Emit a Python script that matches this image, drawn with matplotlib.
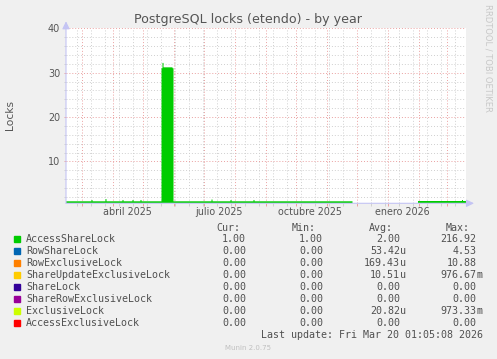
import numpy as np
import pandas as pd
import matplotlib
matplotlib.use('Agg')
import matplotlib.pyplot as plt
import matplotlib.dates as mdates
from matplotlib.ticker import MultipleLocator, FixedLocator, NullFormatter
from matplotlib.patches import Rectangle

# datos (un punto por dia, 400 dias como el grafico anual de munin)
start_day = '2025-02-13'
n_days = 400
baseline = 1.0
bump_dates = ['2025-03-11', '2025-03-25', '2025-04-11', '2025-04-21', '2025-04-29',
              '2025-07-09', '2025-07-28', '2025-08-20', '2026-03-16']
bump_vals = [1.3, 1.5, 1.3, 1.3, 1.3, 1.4, 1.3, 1.3, 1.3]
spike_start = '2025-05-20'
spike_vals = [31.0, 32.2, 31.2, 31.2, 31.2, 31.2, 31.2, 31.2, 31.2, 31.2, 31.2, 31.0]
gap_start, gap_end = '2025-11-28', '2026-01-30'

month_labels = ['abril 2025', 'julio 2025', 'octubre 2025', 'enero 2026']
month_label_dates = ['2025-04-16', '2025-07-16', '2025-10-16', '2026-01-16']

names = ['AccessShareLock', 'RowShareLock', 'RowExclusiveLock', 'ShareUpdateExclusiveLock',
         'ShareLock', 'ShareRowExclusiveLock', 'ExclusiveLock', 'AccessExclusiveLock']
colors = ['#00cc00', '#0066b3', '#ff8000', '#ffcc00', '#330099', '#990099', '#ccff00', '#ff0000']
cur = ['1.00', '0.00', '0.00', '0.00', '0.00', '0.00', '0.00', '0.00']
mins = ['1.00', '0.00', '0.00', '0.00', '0.00', '0.00', '0.00', '0.00']
avgs = ['2.00', '53.42u', '169.43u', '10.51u', '0.00', '0.00', '20.82u', '0.00']
maxs = ['216.92', '4.53', '10.88', '976.67m', '0.00', '0.00', '973.33m', '0.00']

# serie
days = pd.date_range(start_day, periods=n_days, freq='D')
s = pd.Series(baseline, index=days)
for d, v in zip(bump_dates, bump_vals):
    s[pd.Timestamp(d)] = v
spike_idx = pd.date_range(spike_start, periods=len(spike_vals), freq='D')
s[spike_idx] = spike_vals
s[gap_start:gap_end] = np.nan
x = list(s.index) + [s.index[-1] + pd.Timedelta(days=1)]
y = list(s.values) + [s.values[-1]]

W, H = 497, 359
txt = '#555555'
fig = plt.figure(figsize=(W / 100, H / 100), dpi=100, facecolor='#f0f0f0')
ax = fig.add_axes([66 / W, 1 - 203.3 / H, 400 / W, 175 / H])
ax.set_facecolor('white')

ax.fill_between(x, 0, y, step='post', color='#00cc00', lw=0)

ax.set_xlim(pd.Timestamp('2025-02-13 12:00'), pd.Timestamp('2026-03-20 12:00'))
ax.set_ylim(0.55, 40)

ax.yaxis.set_major_locator(MultipleLocator(10))
ax.yaxis.set_minor_locator(MultipleLocator(2))
ax.xaxis.set_major_locator(mdates.MonthLocator())
ax.xaxis.set_major_formatter(NullFormatter())
two_weeks = pd.date_range('2025-02-24', '2026-03-20', freq='14D')
ax.xaxis.set_minor_locator(FixedLocator(mdates.date2num(two_weeks)))

ax.grid(which='major', color='#eaa0a0', linestyle=(0, (1, 2)), lw=0.7)
ax.grid(which='minor', color='#cfcfcf', linestyle=(0, (1, 2)), lw=0.7)
ax.set_axisbelow(True)
for sp in ax.spines.values():
    sp.set_visible(False)

ax.tick_params(axis='y', which='major', length=1.5, width=0.7, color='#eaa0a0',
               labelsize=6.9, labelcolor=txt, pad=2.8)
ax.tick_params(axis='y', which='minor', length=1.5, width=0.7, color='#cfcfcf')
ax.tick_params(axis='x', which='major', length=2.5, width=0.7, color='#eaa0a0')
ax.tick_params(axis='x', which='minor', length=2, width=0.7, color='#cfcfcf')

for lab, d in zip(month_labels, month_label_dates):
    ax.text(pd.Timestamp(d), -9 / 175, lab, transform=ax.get_xaxis_transform(),
            ha='center', va='center', fontsize=6.9, color=txt)

# ejes con flecha
arrow = dict(arrowstyle='-|>,head_length=0.45,head_width=0.22', color='#c4c4f4',
             lw=0.8, shrinkA=0, shrinkB=0)
ax.annotate('', xy=(1 + 8 / 400, 0), xytext=(0, 0), xycoords='axes fraction',
            arrowprops=arrow, annotation_clip=False)
ax.annotate('', xy=(0, 1 + 7 / 175), xytext=(0, 0), xycoords='axes fraction',
            arrowprops=arrow, annotation_clip=False)

fig.text(248 / W, 1 - 19.3 / H, 'PostgreSQL locks (etendo) - by year',
         ha='center', va='center', fontsize=9.1, color=txt)
fig.text(10 / W, 1 - 115 / H, 'Locks', rotation=90, ha='center', va='center',
         fontsize=7.7, color=txt)
fig.text(488 / W, 1 - 58 / H, 'RRDTOOL / TOBI OETIKER', rotation=270, ha='center',
         va='center', fontsize=6, color='#c8c8c8')

# leyenda
mono = dict(family='DejaVu Sans Mono', fontsize=7.2, color='#505050', va='center')
for h, xr in zip(['Cur:', 'Min:', 'Avg:', 'Max:'], [240, 316, 393, 470]):
    fig.text(xr / W, 1 - 228.3 / H, h, ha='right', **mono)

cols = [246, 323, 400, 476.7]
for i, (nm, c) in enumerate(zip(names, colors)):
    yy = 239.3 + 12 * i
    fig.patches.append(Rectangle((14 / W, 1 - (yy + 3) / H), 6 / W, 6 / H,
                                 transform=fig.transFigure, color=c))
    fig.text(26 / W, 1 - yy / H, nm, ha='left', **mono)
    for val, xr in zip([cur[i], mins[i], avgs[i], maxs[i]], cols):
        suf = ''
        if val[-1].isalpha():
            val, suf = val[:-1], val[-1]
        fig.text(xr / W, 1 - yy / H, val, ha='right', **mono)
        if suf:
            fig.text(xr / W, 1 - yy / H, suf, ha='left', **mono)

fig.text(482.7 / W, 1 - 335 / H, 'Last update: Fri Mar 20 01:05:08 2026', ha='right', **mono)
fig.text(248 / W, 1 - 348.3 / H, 'Munin 2.0.75', ha='center', va='center',
         fontsize=5, color='#c0c0c0')

fig.savefig('out.png', dpi=100, facecolor=fig.get_facecolor())
